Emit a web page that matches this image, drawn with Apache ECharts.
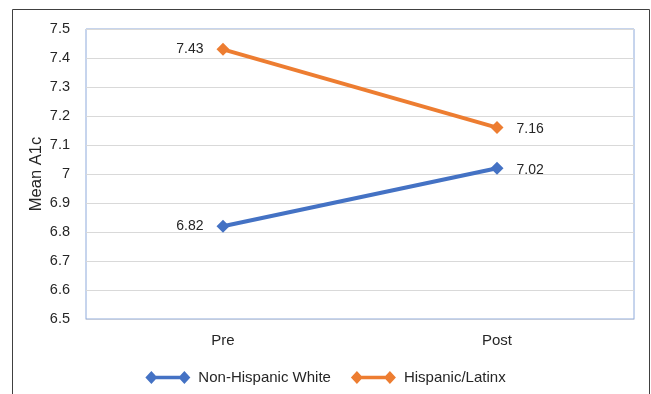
<!DOCTYPE html>
<html>
<head>
<meta charset="utf-8">
<script src="https://cdn.jsdelivr.net/npm/echarts@6/dist/echarts.min.js"></script>
<style>
  html, body { margin: 0; padding: 0; background: #fff; }
  #chart { width: 651px; height: 394px; }
</style>
</head>
<body>
<div id="chart"></div>
<script>
// Mean A1c before and after, by group
const categories = ['Pre', 'Post'];
const nonHispanicWhite = [6.82, 7.02];
const hispanicLatinx = [7.43, 7.16];
const yTicks = { min: 6.5, max: 7.5, step: 0.1 };

const FONT = 'Liberation Sans';
const TEXT = '#262626';

// line with a diamond at each end, used as legend icon
const legendIcon = 'path://M0,6.5 L6,0 L12,6.5 L6,13 Z M33,6.5 L39,0 L45,6.5 L39,13 Z M6,4.7 L39,4.7 L39,8.3 L6,8.3 Z';

function makeSeries(name, data, color) {
  return {
    name: name,
    type: 'line',
    symbol: 'diamond',
    symbolSize: 13,
    lineStyle: { color: color, width: 4 },
    itemStyle: { color: color },
    label: {
      show: true,
      fontFamily: FONT,
      fontSize: 14,
      color: TEXT,
      distance: 13,
      formatter: p => p.value.toFixed(2)
    },
    data: data.map((v, i) => ({
      value: v,
      label: i === 0 ? { position: 'left' } : { position: 'right', offset: [0, 2] }
    })),
    animation: false
  };
}

const chart = echarts.init(document.getElementById('chart'));
chart.setOption({
  backgroundColor: '#fff',
  animation: false,
  graphic: [{
    type: 'rect',
    shape: { x: 12.5, y: 9.5, width: 637, height: 420 },
    style: { fill: 'none', stroke: '#404040', lineWidth: 1 },
    silent: true,
    z: -1
  }],
  grid: {
    left: 86, top: 29, right: 17, bottom: 75,
    show: true,
    borderColor: '#8eaadb',
    borderWidth: 1
  },
  legend: {
    data: ['Non-Hispanic White', 'Hispanic/Latinx'],
    left: 'center',
    top: 365,
    icon: legendIcon,
    itemWidth: 45,
    itemHeight: 13,
    itemGap: 20,
    textStyle: { fontFamily: FONT, fontSize: 15, color: TEXT, padding: [0, 0, 0, 3] }
  },
  xAxis: {
    type: 'category',
    data: categories,
    boundaryGap: true,
    axisLine: { show: true, lineStyle: { color: '#c3cbdc', width: 1 } },
    axisTick: { show: false },
    axisLabel: { fontFamily: FONT, fontSize: 15, color: TEXT, margin: 14 }
  },
  yAxis: {
    type: 'value',
    min: yTicks.min,
    max: yTicks.max,
    interval: yTicks.step,
    name: 'Mean A1c',
    nameLocation: 'middle',
    nameRotate: 90,
    nameGap: 41,
    nameMoveOverlap: false,
    nameTextStyle: { fontFamily: FONT, fontSize: 16.5, color: TEXT },
    axisLine: { show: false },
    axisTick: { show: false },
    splitLine: { lineStyle: { color: '#d9d9d9', width: 1 } },
    axisLabel: {
      fontFamily: FONT, fontSize: 14.5, color: TEXT, margin: 16,
      formatter: v => String(+v.toFixed(1))
    }
  },
  series: [
    makeSeries('Non-Hispanic White', nonHispanicWhite, '#4472c4'),
    makeSeries('Hispanic/Latinx', hispanicLatinx, '#ed7d31')
  ]
});
</script>
</body>
</html>
